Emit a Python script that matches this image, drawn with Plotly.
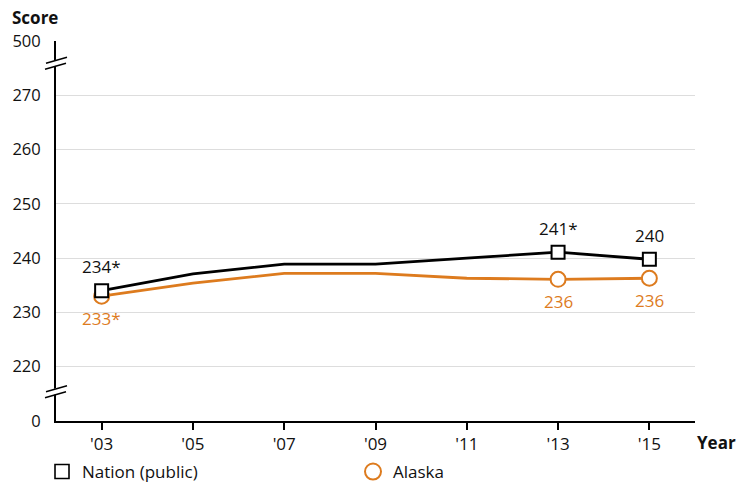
import plotly.graph_objects as go

years = [2003, 2005, 2007, 2009, 2011, 2013, 2015]
year_labels = ["'03", "'05", "'07", "'09", "'11", "'13", "'15"]
nation = [234, 237.1, 238.9, 238.9, 240.0, 241.1, 239.8]
alaska = [233.0, 235.4, 237.2, 237.2, 236.3, 236.1, 236.3]
marked_idx = [0, 5, 6]
nation_labels = ["234*", "241*", "240"]
alaska_labels = ["233*", "236", "236"]
y_tickvals = [210, 220, 230, 240, 250, 260, 270, 280]
y_ticktext = ["0", "220", "230", "240", "250", "260", "270", "500"]
breaks = [275.8, 215.3]

BLACK = "#000000"
ORANGE = "#DD7B1E"
TXT = "#111111"
FONT = "Open Sans"

fig = go.Figure()

fig.add_trace(go.Scatter(x=years, y=nation, mode="lines", line=dict(color=BLACK, width=2.8),
                         showlegend=False, hoverinfo="skip"))
fig.add_trace(go.Scatter(x=years, y=alaska, mode="lines", line=dict(color=ORANGE, width=2.8),
                         showlegend=False, hoverinfo="skip"))

fig.add_trace(go.Scatter(
    x=[years[i] for i in marked_idx], y=[alaska[i] for i in marked_idx], mode="markers",
    marker=dict(symbol="circle", size=15, color="white", line=dict(color=ORANGE, width=2)),
    showlegend=False))
fig.add_trace(go.Scatter(
    x=[years[i] for i in marked_idx], y=[nation[i] for i in marked_idx], mode="markers",
    marker=dict(symbol="square", size=13, color="white", line=dict(color=BLACK, width=2)),
    showlegend=False))

# legend entries
fig.add_trace(go.Scatter(x=[None], y=[None], mode="markers", name="Nation (public)", legend="legend",
                         marker=dict(symbol="square-open", size=14, color=BLACK, line=dict(width=1.6))))
fig.add_trace(go.Scatter(x=[None], y=[None], mode="markers", name="Alaska", legend="legend2",
                         marker=dict(symbol="circle-open", size=16, color=ORANGE, line=dict(width=2))))

annotations = []
for k, i in enumerate(marked_idx):
    annotations.append(dict(x=years[i], y=nation[i], text=nation_labels[k], showarrow=False,
                            yshift=24, font=dict(size=17, color=TXT, family=FONT)))
    annotations.append(dict(x=years[i], y=alaska[i], text=alaska_labels[k], showarrow=False,
                            yshift=-22, font=dict(size=17, color=ORANGE, family=FONT)))

annotations += [
    dict(text="<b>Score</b>", xref="paper", yref="paper", x=-0.072, y=1.0, xanchor="left",
         yanchor="bottom", yshift=10, showarrow=False, font=dict(size=17, color=TXT)),
    dict(text="<b>Year</b>", xref="paper", yref="paper", x=1.0, y=0, xanchor="left",
         yanchor="top", xshift=0, yshift=-8, showarrow=False, font=dict(size=17, color=TXT)),
]

shapes = []
for b in breaks:
    shapes.append(dict(type="path", xref="paper", yref="y", xsizemode="pixel", ysizemode="pixel",
                       xanchor=0, yanchor=b, path="M-10,-5 L10,1 L10,7 L-10,1 Z",
                       fillcolor="white", line=dict(width=0), layer="above"))
    shapes.append(dict(type="path", xref="paper", yref="y", xsizemode="pixel", ysizemode="pixel",
                       xanchor=0, yanchor=b, path="M-11,-5.5 L10,0.5",
                       line=dict(color=BLACK, width=1.5), layer="above"))
    shapes.append(dict(type="path", xref="paper", yref="y", xsizemode="pixel", ysizemode="pixel",
                       xanchor=0, yanchor=b, path="M-10,0.5 L11,6.5",
                       line=dict(color=BLACK, width=1.5), layer="above"))

leg_common = dict(orientation="h", xanchor="left", yref="container", y=(482 - 454) / 482,
                  yanchor="top", font=dict(size=17, color=TXT), bgcolor="rgba(0,0,0,0)",
                  itemclick=False)

fig.update_layout(
    width=748, height=482,
    margin=dict(l=56, r=53, t=41, b=61),
    plot_bgcolor="white", paper_bgcolor="white",
    font=dict(family=FONT, size=16, color=TXT),
    shapes=shapes,
    annotations=annotations,
    xaxis=dict(range=[2002, 2016], tickvals=years, ticktext=year_labels, automargin=False,
               showline=True, linecolor=BLACK, linewidth=2, ticks="outside", ticklen=7,
               tickcolor=BLACK, tickwidth=1.5, showgrid=False, zeroline=False,
               tickfont=dict(size=17, color=TXT)),
    yaxis=dict(range=[210, 280], tickvals=y_tickvals, ticktext=y_ticktext, automargin=False,
               showline=True, linecolor=BLACK, linewidth=2, ticks="", showgrid=True,
               gridcolor="#dddddd", gridwidth=1, zeroline=False, ticklabelstandoff=10,
               tickfont=dict(size=16.5, color=TXT)),
    legend=dict(x=-0.0219, **leg_common),
    legend2=dict(x=0.4648, **leg_common),
)

fig.write_html("out.html", config={"displayModeBar": False},
               post_script="document.body.style.margin='0px';")
